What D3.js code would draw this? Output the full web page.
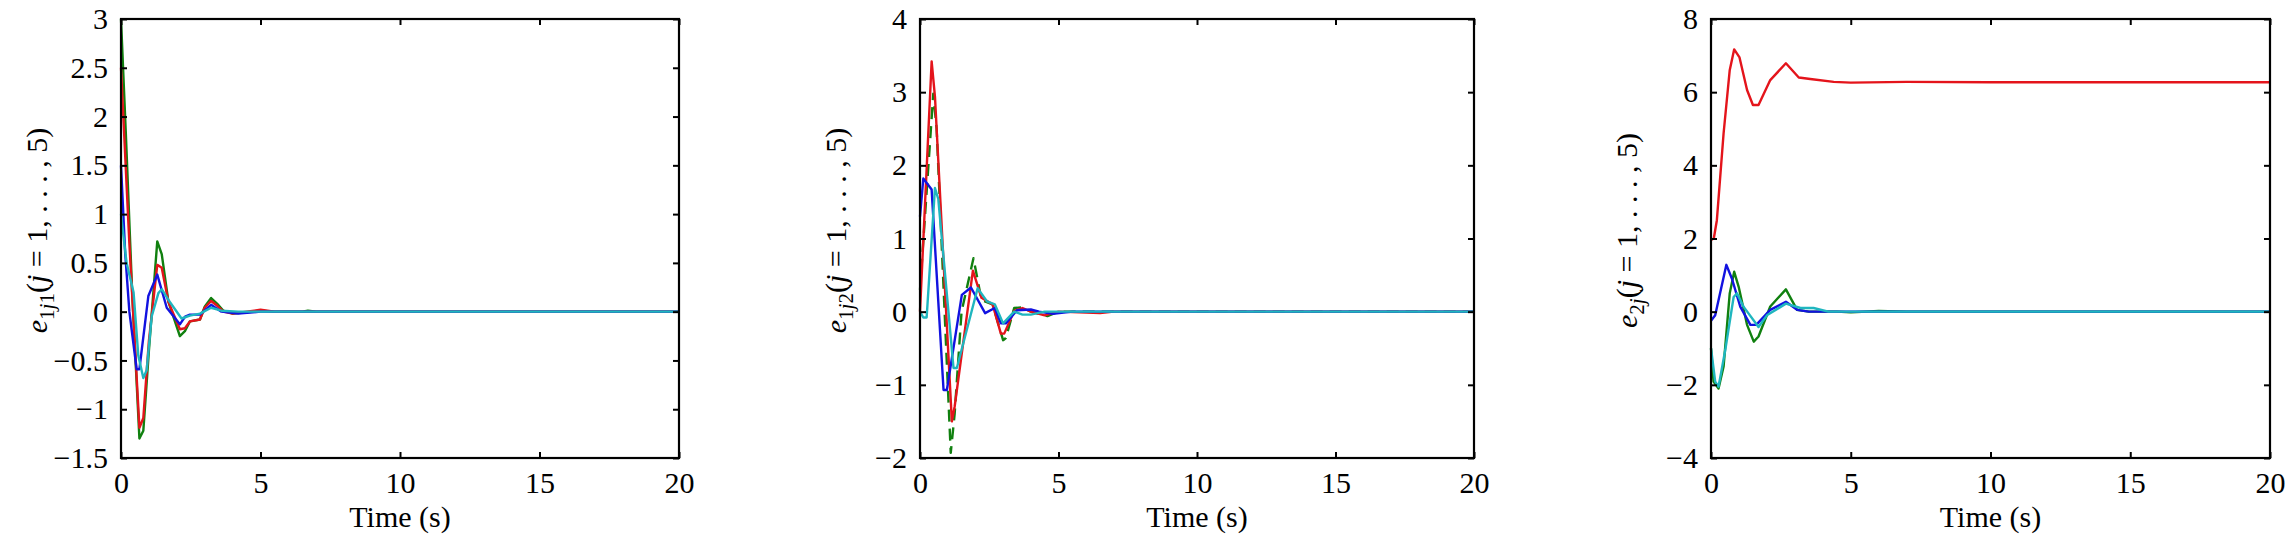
<!DOCTYPE html>
<html>
<head>
<meta charset="utf-8">
<script src="https://cdn.jsdelivr.net/npm/d3@7"></script>
<style>
    body { margin: 0; background: #fff; }
    svg text { font-family: "Liberation Serif", "Times New Roman", serif; }
</style>
</head>
<body>
<svg id="chart" width="2290" height="556"></svg>
<script>
// time axis, shared by all three panels
var timeTicks = [0, 5, 10, 15, 20];

// panel 1 : e_1j1
var p1Ticks = [-1.5, -1, -0.5, 0, 0.5, 1, 1.5, 2, 2.5, 3];
var p1Green = [[0, 3], [0.17, 1.85], [0.4, 0.2], [0.66, -1.3], [0.8, -1.22], [1.0, -0.4], [1.3, 0.72], [1.46, 0.59], [1.7, 0.1], [2.11, -0.25], [2.29, -0.2], [2.47, -0.1], [2.83, -0.08], [3.0, 0.05], [3.23, 0.14], [3.45, 0.08], [3.67, 0.01], [4.0, -0.02], [4.4, -0.01], [5, 0.01], [5.5, 0], [6.5, 0], [6.7, 0.01], [7, 0], [20, 0]];
var p1Red = [[0, 2.5], [0.3, 0.7], [0.66, -1.19], [0.8, -1.09], [1.0, -0.3], [1.3, 0.48], [1.46, 0.45], [1.7, 0.1], [2.11, -0.18], [2.29, -0.17], [2.47, -0.1], [2.83, -0.08], [3.0, 0.04], [3.23, 0.11], [3.45, 0.06], [3.67, 0], [4.0, -0.02], [4.5, 0], [5, 0.02], [5.5, 0], [20, 0]];
var p1Blue = [[0, 1.5], [0.15, 0.6], [0.3, 0], [0.56, -0.59], [0.66, -0.59], [0.98, 0.16], [1.3, 0.38], [1.64, 0.04], [2.11, -0.13], [2.3, -0.05], [2.47, -0.03], [2.83, -0.03], [3.23, 0.07], [3.6, 0], [4.2, -0.02], [5, 0], [20, 0]];
var p1Cyan = [[0, 1.0], [0.2, 0.5], [0.45, 0.2], [0.62, -0.45], [0.8, -0.68], [0.92, -0.6], [1.1, -0.05], [1.34, 0.19], [1.46, 0.23], [1.7, 0.12], [2.17, -0.07], [2.47, -0.04], [2.83, -0.02], [3.23, 0.04], [3.6, 0.01], [4.2, 0], [20, 0]];

// panel 2 : e_1j2
var p2Ticks = [-2, -1, 0, 1, 2, 3, 4];
var p2Green = [[0, 0.3], [0.48, 2.98], [0.6, 2.5], [1.11, -1.93], [1.25, -1.4], [1.5, 0], [1.93, 0.73], [2.22, 0.16], [2.62, 0.1], [3.0, -0.39], [3.1, -0.36], [3.4, 0.05], [3.7, 0.06], [4.0, 0], [4.6, -0.06], [5.0, 0], [20, 0]];
var p2Red = [[0, 0], [0.42, 3.42], [0.54, 2.94], [1.15, -1.5], [1.25, -1.3], [1.91, 0.56], [2.22, 0.19], [2.62, 0.1], [2.92, -0.3], [3.04, -0.3], [3.4, 0.01], [3.7, 0.05], [4.0, 0], [4.5, -0.05], [5.0, 0], [6.5, -0.02], [7, 0], [20, 0]];
var p2Blue = [[0, 1.3], [0.12, 1.82], [0.42, 1.67], [0.85, -1.07], [0.97, -1.07], [1.51, 0.23], [1.84, 0.33], [2.35, -0.02], [2.7, 0.05], [2.92, -0.16], [3.1, -0.16], [3.5, 0.02], [4.0, 0.03], [4.3, 0], [4.8, -0.03], [5.5, 0], [20, 0]];
var p2Cyan = [[0, 0], [0.12, -0.08], [0.24, -0.08], [0.54, 1.69], [0.66, 1.54], [1.21, -0.77], [1.33, -0.77], [2.08, 0.32], [2.42, 0.14], [2.7, 0.1], [3.0, -0.16], [3.4, 0], [3.7, -0.04], [4.0, -0.04], [4.5, 0], [20, 0]];

// panel 3 : e_2j
var p3Ticks = [-4, -2, 0, 2, 4, 6, 8];
var p3Red = [[0, 1.96], [0.1, 2.0], [0.21, 2.5], [0.45, 4.87], [0.67, 6.6], [0.83, 7.17], [1.02, 6.95], [1.29, 6.06], [1.5, 5.65], [1.7, 5.65], [2.12, 6.33], [2.68, 6.79], [3.14, 6.4], [3.55, 6.36], [4.39, 6.28], [5, 6.26], [7, 6.28], [10, 6.27], [20, 6.27]];
var p3Green = [[0, -1], [0.09, -1.91], [0.27, -2.1], [0.45, -1.5], [0.67, 0.5], [0.83, 1.09], [0.99, 0.68], [1.29, -0.36], [1.53, -0.82], [1.7, -0.68], [2.12, 0.14], [2.68, 0.61], [3.08, 0.05], [3.5, 0], [4.5, 0], [5, -0.02], [6, 0.02], [7, 0], [20, 0]];
var p3Blue = [[0, -0.25], [0.15, -0.1], [0.55, 1.28], [0.75, 0.9], [1.05, 0.13], [1.41, -0.36], [1.62, -0.36], [2.12, 0.05], [2.68, 0.27], [3.08, 0.05], [3.5, 0], [20, 0]];
var p3Cyan = [[0, -1], [0.15, -1.91], [0.27, -2.05], [0.51, -1.05], [0.81, 0.4], [0.93, 0.5], [1.17, 0.13], [1.7, -0.42], [2.0, -0.1], [2.68, 0.22], [3.2, 0.1], [3.67, 0.1], [4.2, 0], [20, 0]];

var colors = { red: "#e4141b", green: "#10800f", blue: "#1212e0", cyan: "#1fb6bf" };

var svg = d3.select("svg#chart");
svg.append("rect").attr("width", 2290).attr("height", 556).attr("fill", "#fff");

// note: "top" is a reserved window property, so use other names
var plotTop = 19, plotBottom = 458;

function fmt(v) { return v < 0 ? "\u2212" + Math.abs(v) : String(v); }

function drawPanel(p) {
    var x = d3.scaleLinear().domain([0, 20]).range([p.left, p.right]);
    var y = d3.scaleLinear().domain([p.ticks[0], p.ticks[p.ticks.length - 1]]).range([plotBottom, plotTop]);
    var g = svg.append("g");

    var line = d3.line()
        .x(function (d) { return x(d[0]); })
        .y(function (d) { return y(d[1]); });

    // series, cyan drawn last like the original
    p.series.forEach(function (s) {
        g.append("path")
            .datum(s.data)
            .attr("d", line)
            .attr("fill", "none")
            .attr("stroke", s.color)
            .attr("stroke-width", 2.4)
            .attr("stroke-linejoin", "round")
            .attr("stroke-dasharray", s.dash || null);
    });

    // inward ticks on all four sides
    g.append("g").attr("transform", "translate(0," + plotBottom + ")")
        .call(d3.axisBottom(x).tickValues(timeTicks).tickSizeInner(-6).tickSizeOuter(0).tickPadding(14).tickFormat(fmt));
    g.append("g").attr("transform", "translate(0," + plotTop + ")")
        .call(d3.axisTop(x).tickValues(timeTicks).tickSizeInner(-6).tickSizeOuter(0).tickFormat(""));
    g.append("g").attr("transform", "translate(" + p.left + ",0)")
        .call(d3.axisLeft(y).tickValues(p.ticks).tickSizeInner(-6).tickSizeOuter(0).tickPadding(13).tickFormat(fmt));
    g.append("g").attr("transform", "translate(" + p.right + ",0)")
        .call(d3.axisRight(y).tickValues(p.ticks).tickSizeInner(-6).tickSizeOuter(0).tickFormat(""));

    g.selectAll(".domain").remove();
    g.selectAll(".tick line").attr("stroke", "#000").attr("stroke-width", 2);
    g.selectAll(".tick text").attr("font-size", 30).attr("fill", "#000")
        .attr("font-family", "'Liberation Serif', serif");

    g.append("rect")
        .attr("x", p.left).attr("y", plotTop)
        .attr("width", p.right - p.left).attr("height", plotBottom - plotTop)
        .attr("fill", "none").attr("stroke", "#000").attr("stroke-width", 2.2);

    // x label
    g.append("text")
        .attr("x", (p.left + p.right) / 2)
        .attr("y", 527)
        .attr("text-anchor", "middle")
        .attr("font-size", 30)
        .text("Time (s)");

    // y label  e_{..}(j = 1, ..., 5)
    var yl = g.append("text")
        .attr("transform", "translate(" + (p.left - 74) + "," + ((plotTop + plotBottom) / 2 - 8) + ") rotate(-90)")
        .attr("text-anchor", "middle")
        .attr("font-size", 30);
    yl.append("tspan").attr("font-style", "italic").text("e");
    p.sub.forEach(function (c, i) {
        yl.append("tspan")
            .attr("font-size", 21)
            .attr("dy", i == 0 ? 7 : null)
            .attr("font-style", c == "j" ? "italic" : null)
            .text(c);
    });
    yl.append("tspan").attr("dy", -7).text("(");
    yl.append("tspan").attr("font-style", "italic").text("j");
    yl.append("tspan").text(" = 1, . . . , 5)");
}

drawPanel({
    left: 121, right: 679, ticks: p1Ticks, sub: ["1", "j", "1"],
    series: [
        { data: p1Green, color: colors.green },
        { data: p1Red, color: colors.red },
        { data: p1Blue, color: colors.blue },
        { data: p1Cyan, color: colors.cyan }
    ]
});

drawPanel({
    left: 920, right: 1474, ticks: p2Ticks, sub: ["1", "j", "2"],
    series: [
        { data: p2Green, color: colors.green, dash: "12,7" },
        { data: p2Red, color: colors.red },
        { data: p2Blue, color: colors.blue },
        { data: p2Cyan, color: colors.cyan }
    ]
});

drawPanel({
    left: 1711, right: 2270, ticks: p3Ticks, sub: ["2", "j"],
    series: [
        { data: p3Red, color: colors.red },
        { data: p3Green, color: colors.green },
        { data: p3Blue, color: colors.blue },
        { data: p3Cyan, color: colors.cyan }
    ]
});
</script>
</body>
</html>
